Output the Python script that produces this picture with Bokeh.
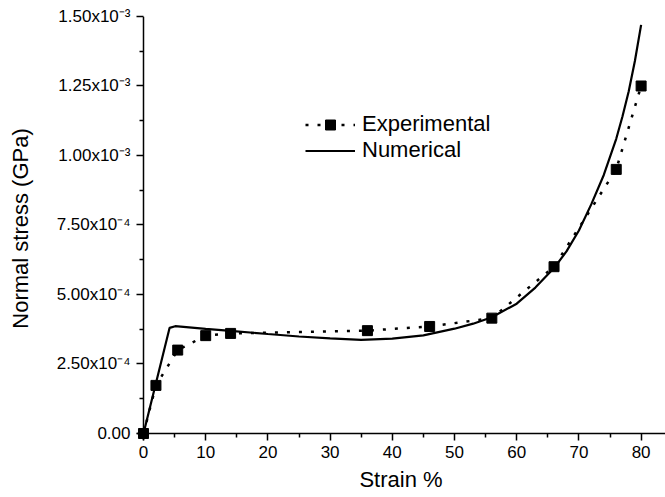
from bokeh.plotting import figure
from bokeh.models import FixedTicker, CustomJSTickFormatter, Legend, LegendItem, Range1d, Span
from bokeh.embed import file_html
from bokeh.resources import INLINE

# ---- data ----
strain_exp = [0, 2, 5.5, 10, 14, 36, 46, 56, 66, 76, 80]
stress_exp = [0.0, 1.73e-4, 3.00e-4, 3.52e-4, 3.60e-4, 3.70e-4, 3.85e-4, 4.15e-4, 6.00e-4, 9.50e-4, 1.25e-3]

strain_num = [0, 4.2, 5.1, 10, 14, 20, 25, 30, 35, 40, 45, 50, 53, 56, 60, 63, 66, 68, 70, 72, 74, 76, 77, 78, 79, 80]
stress_num = [0.0, 3.80e-4, 3.86e-4, 3.76e-4, 3.69e-4, 3.58e-4, 3.49e-4, 3.42e-4, 3.37e-4, 3.41e-4,
              3.53e-4, 3.77e-4, 3.95e-4, 4.18e-4, 4.67e-4, 5.25e-4, 5.95e-4, 6.55e-4, 7.30e-4, 8.25e-4,
              9.30e-4, 1.06e-3, 1.14e-3, 1.23e-3, 1.34e-3, 1.47e-3]

x_ticks = [0, 10, 20, 30, 40, 50, 60, 70, 80]
x_minor = [5, 15, 25, 35, 45, 55, 65, 75, 85]
y_ticks = [0.0, 2.5e-4, 5.0e-4, 7.5e-4, 1.0e-3, 1.25e-3, 1.5e-3]
y_minor = [1.25e-4, 3.75e-4, 6.25e-4, 8.75e-4, 1.125e-3, 1.375e-3]
y_labels = ["0.00", "2.50x10\u207b\u2074", "5.00x10\u207b\u2074", "7.50x10\u207b\u2074",
            "1.00x10\u207b\u00b3", "1.25x10\u207b\u00b3", "1.50x10\u207b\u00b3"]

FONT = "Liberation Sans"

p = figure(width=665, height=497, output_backend="svg", toolbar_location=None,
           x_range=Range1d(-1.125, 83.92), y_range=Range1d(-2.52e-5, 1.5e-3),
           min_border_left=136, min_border_right=0, min_border_top=16, min_border_bottom=57)
p.outline_line_color = None
p.grid.visible = False
p.background_fill_color = "white"
p.border_fill_color = "white"

for ax in (p.xaxis[0], p.yaxis[0]):
    ax.axis_line_color = None
    ax.major_tick_line_color = "black"
    ax.major_tick_line_width = 1.5
    ax.minor_tick_line_color = "black"
    ax.minor_tick_line_width = 1.5
    ax.major_tick_out = 0
    ax.major_tick_in = 7
    ax.minor_tick_out = -3
    ax.minor_tick_in = 7
    ax.major_label_text_font = FONT
    ax.major_label_text_font_size = "17px"
    ax.major_label_text_color = "black"
    ax.axis_label_text_font = FONT
    ax.axis_label_text_font_size = "22px"
    ax.axis_label_text_font_style = "normal"
    ax.axis_label_text_color = "black"

p.xaxis.ticker = FixedTicker(ticks=x_ticks, minor_ticks=x_minor)
p.yaxis.ticker = FixedTicker(ticks=y_ticks, minor_ticks=y_minor)
p.yaxis.formatter = CustomJSTickFormatter(args=dict(tv=y_ticks, lbl=y_labels), code="""
    for (let i = 0; i < tv.length; i++) {
        if (Math.abs(tv[i] - tick) < 1e-9) return lbl[i];
    }
    return '';
""")
p.xaxis.axis_label = "Strain %"
p.yaxis.axis_label = "Normal stress (GPa)"
p.xaxis.major_label_standoff = 5
p.xaxis.axis_label_standoff = 6
p.yaxis.major_label_standoff = 6
p.yaxis.axis_label_standoff = 21

# axis lines through the origin
p.add_layout(Span(location=0, dimension="height", line_color="black", line_width=1.5, level="underlay"))
p.add_layout(Span(location=0, dimension="width", line_color="black", line_width=1.5, level="underlay"))

r_num = p.line(strain_num, stress_num, line_color="black", line_width=2.2)
r_exp_line = p.line(strain_exp, stress_exp, line_color="black", line_width=2.5, line_dash="3 9")
r_exp_pts = p.scatter(strain_exp, stress_exp, marker="square", size=10, fill_color="black", line_color="black")

legend = Legend(items=[LegendItem(label="Experimental", renderers=[r_exp_line, r_exp_pts]),
                       LegendItem(label="Numerical", renderers=[r_num])],
                location=(169, 277), padding=0, spacing=0, margin=0,
                glyph_width=50, glyph_height=25, label_height=25, label_standoff=7,
                label_text_font=FONT, label_text_font_size="22px", label_text_color="black",
                background_fill_alpha=0, border_line_color=None)
p.add_layout(legend, "center")

open("out.html", "w").write(file_html(p, INLINE))
